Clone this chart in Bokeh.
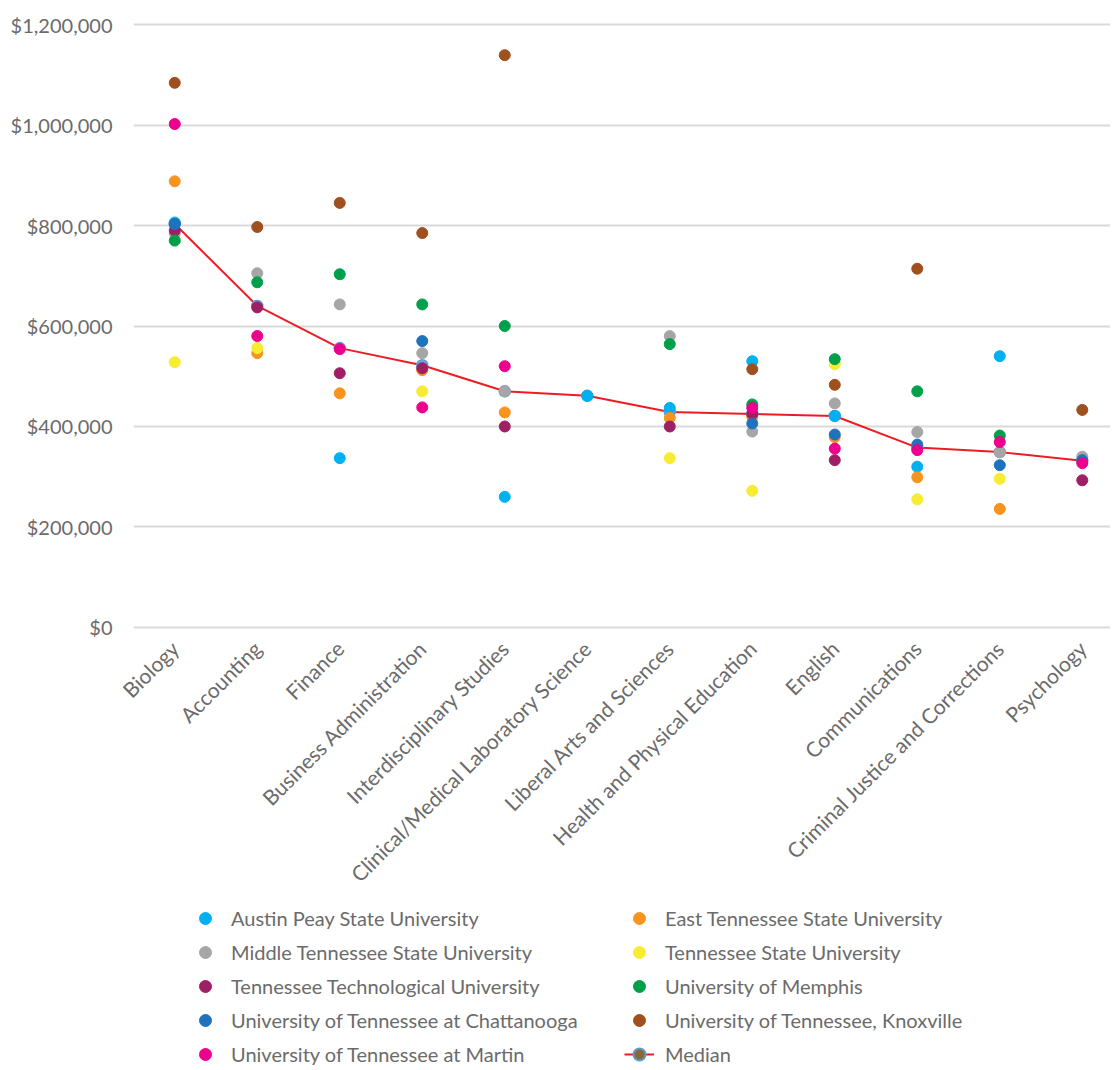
import numpy as np
from bokeh.plotting import figure
from bokeh.layouts import column
from bokeh.models import Range1d, FixedTicker, NumeralTickFormatter, Legend, LegendItem
from bokeh.embed import file_html
from bokeh.resources import INLINE

nan = np.nan

categories = ["Biology", "Accounting", "Finance", "Business Administration",
              "Interdisciplinary Studies", "Clinical/Medical Laboratory Science",
              "Liberal Arts and Sciences", "Health and Physical Education", "English",
              "Communications", "Criminal Justice and Corrections", "Psychology"]

austin_peay = [806000, nan, 337000, nan, 260000, 461000, 437000, 530000, 421000, 320000, 540000, nan]
east_tennessee = [888000, 546000, 466000, 512000, 428000, nan, 417000, 419000, 379000, 299000, 236000, nan]
middle_tennessee = [784000, 705000, 643000, 546000, 470000, nan, 580000, 390000, 446000, 389000, 349000, 340000]
tennessee_state = [528000, 556000, nan, 470000, nan, nan, 337000, 272000, 524000, 255000, 296000, nan]
tennessee_tech = [790000, 637000, 506000, 516000, 400000, nan, 400000, 425000, 333000, nan, nan, 293000]
memphis = [770000, 687000, 703000, 643000, 600000, nan, 564000, 444000, 534000, 470000, 382000, nan]
ut_chattanooga = [803000, nan, nan, 570000, nan, nan, nan, 406000, 384000, 364000, 323000, 333000]
ut_knoxville = [1084000, 797000, 845000, 785000, 1139000, nan, nan, 514000, 483000, 714000, nan, 433000]
ut_martin = [1002000, 580000, 554000, 438000, 520000, nan, nan, 437000, 356000, 353000, 369000, 327000]
median = [803000, 640000, 556000, 522000, 470000, 461000, 429000, 425000, 421000, 358000, 349000, 332000]

y_ticks = [0, 200000, 400000, 600000, 800000, 1000000, 1200000]

series = [
    ("Austin Peay State University", austin_peay, "#00B0F0"),
    ("East Tennessee State University", east_tennessee, "#F7941D"),
    ("Middle Tennessee State University", middle_tennessee, "#A6A6A6"),
    ("Tennessee State University", tennessee_state, "#F7EC31"),
    ("Tennessee Technological University", tennessee_tech, "#9E1F63"),
    ("University of Memphis", memphis, "#00A04B"),
    ("University of Tennessee at Chattanooga", ut_chattanooga, "#1F73BD"),
    ("University of Tennessee, Knoxville", ut_knoxville, "#A0501F"),
    ("University of Tennessee at Martin", ut_martin, "#EC008C"),
]

FONT = "Lato"
TXT = "#6b6b6b"
RED = "#ED1C24"

xs = list(range(len(categories)))

# ---------------- main chart ----------------
p = figure(width=1110, height=900,
           x_range=Range1d(-0.5, 11.342), y_range=Range1d(-6000, 1206000),
           output_backend="svg", toolbar_location=None,
           min_border_left=133, min_border_right=0, min_border_top=21, min_border_bottom=270)
p.outline_line_color = None
p.xgrid.grid_line_color = None
p.ygrid.grid_line_color = "#D9D9D9"
p.ygrid.grid_line_width = 2
p.ygrid.ticker = FixedTicker(ticks=y_ticks)

p.yaxis.ticker = FixedTicker(ticks=y_ticks)
p.yaxis.formatter = NumeralTickFormatter(format="$0,0")
p.yaxis.axis_line_color = None
p.yaxis.major_tick_line_color = None
p.yaxis.minor_tick_line_color = None
p.yaxis.major_label_text_font = FONT
p.yaxis.major_label_text_font_size = "20px"
p.yaxis.major_label_text_color = TXT
p.yaxis.major_label_standoff = 15

p.xaxis.ticker = FixedTicker(ticks=xs)
p.xaxis.major_label_overrides = {i: c for i, c in enumerate(categories)}
p.xaxis.major_label_orientation = np.pi / 4
p.xaxis.axis_line_color = None
p.xaxis.major_tick_line_color = None
p.xaxis.minor_tick_line_color = None
p.xaxis.major_label_text_font = FONT
p.xaxis.major_label_text_font_size = "21px"
p.xaxis.major_label_text_color = TXT
p.xaxis.major_label_standoff = 8

p.line(xs, median, line_color=RED, line_width=2)
p.scatter(xs, median, size=11, fill_color="#6FA8DC", line_color="#5B9BD5", line_width=1.5)

for name, vals, col in series:
    p.scatter(xs, np.array(vals, dtype=float), size=11, fill_color=col, line_color=col)

# ---------------- legend strip ----------------
lg = figure(width=1110, height=169, x_range=Range1d(0, 1), y_range=Range1d(0, 1),
            x_axis_type=None, y_axis_type=None, output_backend="svg", toolbar_location=None,
            min_border=0)
lg.outline_line_color = None
lg.grid.visible = False

items = []
for name, vals, col in series:
    r = lg.scatter(x=[nan], y=[nan], size=11, fill_color=col, line_color=col)
    items.append(LegendItem(label=name, renderers=[r]))
ml = lg.line(x=[nan], y=[nan], line_color=RED, line_width=2)
mm = lg.scatter(x=[nan], y=[nan], size=11, fill_color="#8B6A2E", line_color="#5B9BD5", line_width=2)
items.append(LegendItem(label="Median", renderers=[ml, mm]))

legend = Legend(items=items, orientation="horizontal", ncols=2, location=(57, 0),
                glyph_width=30, glyph_height=30, label_height=30, label_width=389,
                label_standoff=11, spacing=4, padding=0, margin=0,
                border_line_color=None, background_fill_alpha=0,
                label_text_font=FONT, label_text_font_size="20px", label_text_color=TXT)
lg.add_layout(legend)

page = column(p, lg, spacing=0)
open("out.html", "w").write(file_html(page, INLINE))
